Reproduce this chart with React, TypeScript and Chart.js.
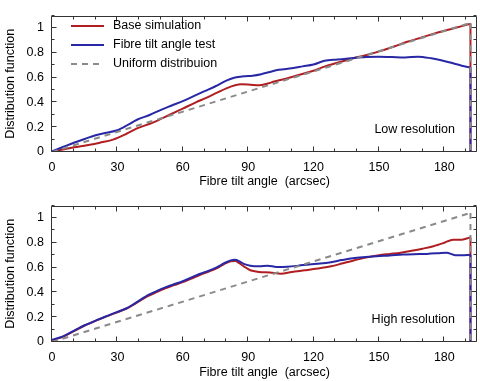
import React, { useEffect, useRef } from "react";
import { Chart, registerables } from "chart.js";

Chart.register(...registerables);

// ---------- data ----------
const seriesLabels = ["Base simulation", "Fibre tilt angle test", "Uniform distribuion"];
const panelLabels = ["Low resolution", "High resolution"];
const xAxisTitle = "Fibre tilt angle  (arcsec)";
const yAxisTitle = "Distribution function";

const X_MIN = 0;
const X_MAX = 195;
const Y_MIN = 0;
const Y_MAX = 1.1;
const X_STEP = 30;
const Y_STEP = 0.2;
const X_MINOR = 10;
const Y_MINOR = 0.1;

const uniformX = [0, 192];
const uniformY = [0, 1.04];

// Low resolution
const lowBaseX = [0, 5, 10, 16, 22, 28, 34, 39, 46, 54, 60, 66, 71, 76, 80, 84, 87, 91, 95, 99, 102, 108, 114, 120, 125, 131, 137, 144, 151, 157, 163, 170, 177, 184, 192];
const lowBaseY = [0, 0.02, 0.038, 0.055, 0.075, 0.1, 0.145, 0.19, 0.235, 0.3, 0.35, 0.4, 0.438, 0.48, 0.513, 0.538, 0.545, 0.542, 0.538, 0.552, 0.568, 0.595, 0.625, 0.655, 0.688, 0.72, 0.75, 0.78, 0.815, 0.85, 0.888, 0.925, 0.963, 0.995, 1.033];

const lowTestX = [0, 5, 10, 15, 20, 25, 30, 35, 39, 45, 50, 55, 60, 65, 70, 75, 80, 84, 88, 92, 96, 100, 104, 110, 115, 120, 125, 131, 137, 144, 150, 156, 162, 168, 174, 179, 184, 188, 192];
const lowTestY = [0.005, 0.04, 0.075, 0.105, 0.135, 0.155, 0.175, 0.22, 0.26, 0.3, 0.34, 0.375, 0.41, 0.45, 0.49, 0.53, 0.575, 0.6, 0.61, 0.615, 0.627, 0.645, 0.662, 0.675, 0.69, 0.705, 0.735, 0.745, 0.755, 0.765, 0.768, 0.765, 0.762, 0.768, 0.755, 0.738, 0.715, 0.695, 0.68];

// High resolution
const highBaseX = [0, 4, 10, 15, 21, 26, 30, 34, 37, 41, 44, 48, 52, 56, 60, 64, 68, 72, 76, 79, 82, 84, 86, 88, 91, 95, 100, 105, 110, 116, 122, 128, 133, 138, 144, 150, 155, 160, 165, 170, 175, 180, 184, 188, 192];
const highBaseY = [0.015, 0.035, 0.088, 0.133, 0.178, 0.213, 0.24, 0.268, 0.297, 0.34, 0.37, 0.402, 0.432, 0.458, 0.483, 0.512, 0.542, 0.568, 0.598, 0.628, 0.65, 0.652, 0.635, 0.61, 0.578, 0.565, 0.56, 0.55, 0.565, 0.578, 0.592, 0.61, 0.632, 0.655, 0.68, 0.7, 0.71, 0.72, 0.735, 0.752, 0.772, 0.8, 0.825, 0.825, 0.843];

const highTestX = [0, 4, 10, 15, 21, 26, 30, 34, 37, 41, 44, 48, 52, 56, 60, 64, 68, 72, 76, 79, 82, 84, 86, 88, 91, 95, 99, 103, 108, 113, 118, 123, 128, 133, 138, 144, 149, 155, 161, 166, 172, 177, 181, 185, 188, 192];
const highTestY = [0.018, 0.038, 0.09, 0.135, 0.18, 0.215, 0.243, 0.27, 0.3, 0.345, 0.378, 0.41, 0.44, 0.465, 0.49, 0.52, 0.55, 0.575, 0.605, 0.635, 0.658, 0.663, 0.65, 0.63, 0.615, 0.61, 0.615, 0.605, 0.607, 0.615, 0.625, 0.632, 0.643, 0.66, 0.675, 0.685, 0.692, 0.698, 0.705, 0.708, 0.71, 0.715, 0.72, 0.7, 0.7, 0.703];

// ---------- style ----------
const FONT = "'Liberation Sans', Arial, Helvetica, sans-serif";
const FONT_SIZE = 12.5;
const RED = "#b01e22";
const BLUE = "#2828a6";
const GRAY = "#8a8a8a";
const DASH = [6, 5];

const pts = (xs: number[], ys: number[]) => xs.map((x, i) => ({ x, y: ys[i] }));
const drop = (xs: number[], ys: number[]) => [
  { x: xs[xs.length - 1], y: ys[ys.length - 1] },
  { x: xs[xs.length - 1], y: 0 },
];

type PanelProps = {
  height: number;
  xAxisHeight: number;
  baseX: number[];
  baseY: number[];
  testX: number[];
  testY: number[];
  label: string;
  showLegend: boolean;
};

function Panel(props: PanelProps) {
  const ref = useRef<HTMLCanvasElement | null>(null);
  useEffect(() => {
    const canvas = ref.current;
    if (!canvas) return;

    const framePlugin = {
      id: "frameTicks",
      afterDatasetsDraw(chart: any) {
        const { ctx, chartArea } = chart;
        const { left, right, top, bottom } = chartArea;
        const xs = chart.scales.x;
        const ys = chart.scales.y;
        ctx.save();
        ctx.strokeStyle = "#333";
        ctx.lineWidth = 1;
        const L = Math.round(left) - 0.5;
        const R = Math.round(right) - 0.5;
        const T = Math.round(top) + 0.5;
        const B = Math.round(bottom) - 0.5;
        ctx.beginPath();
        ctx.rect(L, T, R - L, B - T);
        ctx.stroke();
        ctx.beginPath();
        for (let v = X_MIN; v <= X_MAX + 1e-9; v += X_MINOR) {
          const major = Math.abs(v / X_STEP - Math.round(v / X_STEP)) < 1e-6;
          const len = major ? 5 : 3;
          const px = Math.round(xs.getPixelForValue(v)) - 0.5;
          ctx.moveTo(px, B);
          ctx.lineTo(px, B - len);
          ctx.moveTo(px, T);
          ctx.lineTo(px, T + len);
        }
        for (let v = Y_MIN; v <= Y_MAX + 1e-9; v += Y_MINOR) {
          const major = Math.abs(v / Y_STEP - Math.round(v / Y_STEP)) < 1e-6;
          const len = major ? 5 : 3;
          const py = Math.round(ys.getPixelForValue(v)) - 0.5;
          ctx.moveTo(L, py);
          ctx.lineTo(L + len, py);
          ctx.moveTo(R, py);
          ctx.lineTo(R - len, py);
        }
        ctx.stroke();

        // panel label
        ctx.fillStyle = "#000";
        ctx.font = `${FONT_SIZE}px ${FONT}`;
        ctx.textAlign = "right";
        ctx.textBaseline = "middle";
        ctx.fillText(props.label, 455, 130);

        // legend
        if (props.showLegend) {
          const items = [
            { text: seriesLabels[0], color: RED, dash: [] as number[] },
            { text: seriesLabels[1], color: BLUE, dash: [] as number[] },
            { text: seriesLabels[2], color: GRAY, dash: DASH },
          ];
          const rows = [26, 45, 64];
          items.forEach((it, i) => {
            ctx.beginPath();
            ctx.strokeStyle = it.color;
            ctx.lineWidth = 2;
            ctx.setLineDash(it.dash);
            ctx.moveTo(71, rows[i]);
            ctx.lineTo(104, rows[i]);
            ctx.stroke();
            ctx.setLineDash([]);
            ctx.textAlign = "left";
            ctx.fillStyle = "#000";
            ctx.fillText(it.text, 113, rows[i]);
          });
        }
        ctx.restore();
      },
    };

    const lineCommon = {
      pointRadius: 0,
      borderWidth: 2,
      fill: false,
    };

    const chart = new Chart(canvas, {
      type: "line",
      data: {
        datasets: [
          { ...lineCommon, label: seriesLabels[2], data: pts(uniformX, uniformY), borderColor: GRAY, borderDash: DASH, tension: 0 },
          { ...lineCommon, label: "_dropU", data: drop(uniformX, uniformY), borderColor: GRAY, borderDash: DASH, tension: 0 },
          { ...lineCommon, label: seriesLabels[1], data: pts(props.testX, props.testY), borderColor: BLUE, cubicInterpolationMode: "monotone" },
          { ...lineCommon, label: "_dropT", data: drop(props.testX, props.testY), borderColor: BLUE, tension: 0 },
          { ...lineCommon, label: seriesLabels[0], data: pts(props.baseX, props.baseY), borderColor: RED, cubicInterpolationMode: "monotone" },
          { ...lineCommon, label: "_dropB", data: drop(props.baseX, props.baseY), borderColor: RED, tension: 0 },
        ] as any,
      },
      options: {
        animation: false,
        responsive: false,
        maintainAspectRatio: false,
        layout: { padding: { top: 4, right: 3, left: 0, bottom: 0 } },
        plugins: { legend: { display: false }, tooltip: { enabled: false } },
        scales: {
          x: {
            type: "linear",
            min: X_MIN,
            max: X_MAX,
            grid: { display: false, drawTicks: false },
            border: { display: false },
            ticks: {
              stepSize: X_STEP,
              includeBounds: false,
              padding: 8,
              maxRotation: 0,
              autoSkip: false,
              color: "#000",
              font: { family: FONT, size: FONT_SIZE },
            },
            title: {
              display: true,
              text: xAxisTitle,
              color: "#000",
              font: { family: FONT, size: FONT_SIZE },
              padding: { top: 0, bottom: 1 },
            },
            afterFit: (s: any) => {
              s.height = props.xAxisHeight;
            },
          },
          y: {
            type: "linear",
            min: Y_MIN,
            max: Y_MAX,
            grid: { display: false, drawTicks: false },
            border: { display: false },
            ticks: {
              stepSize: Y_STEP,
              includeBounds: false,
              padding: 8,
              color: "#000",
              font: { family: FONT, size: FONT_SIZE },
              callback: (v: any) => String(Number(Number(v).toFixed(1))),
            },
            title: {
              display: true,
              text: yAxisTitle,
              color: "#000",
              font: { family: FONT, size: FONT_SIZE },
              padding: { top: 3, bottom: 0 },
            },
            afterFit: (s: any) => {
              s.width = 52;
            },
          },
        },
      } as any,
      plugins: [framePlugin],
    });
    return () => chart.destroy();
  }, []);
  return <canvas ref={ref} width={480} height={props.height} style={{ display: "block" }} />;
}

export default function App() {
  return (
    <div style={{ position: "absolute", left: 0, top: 0, width: 480, height: 381, background: "#fff" }}>
      <Panel height={190} xAxisHeight={38} baseX={lowBaseX} baseY={lowBaseY} testX={lowTestX} testY={lowTestY} label={panelLabels[0]} showLegend={true} />
      <Panel height={191} xAxisHeight={39} baseX={highBaseX} baseY={highBaseY} testX={highTestX} testY={highTestY} label={panelLabels[1]} showLegend={false} />
    </div>
  );
}
